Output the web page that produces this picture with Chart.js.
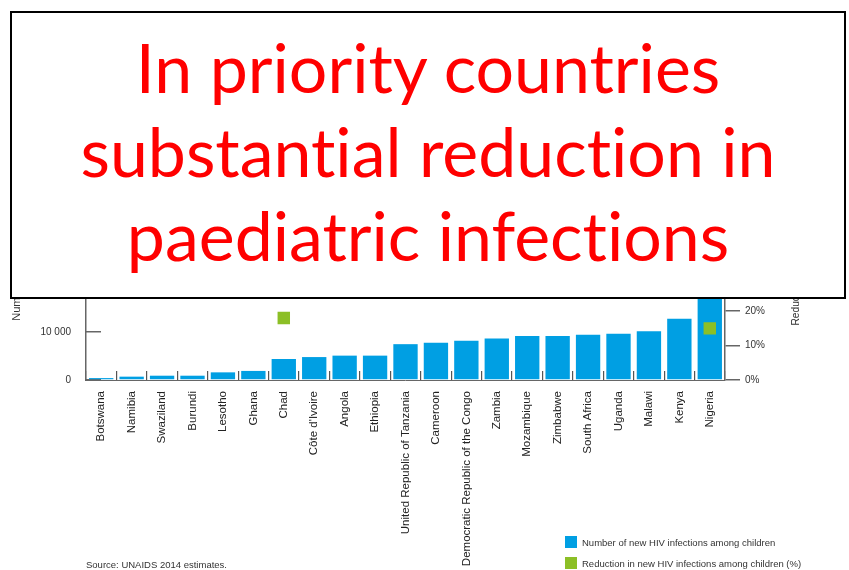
<!DOCTYPE html>
<html lang="en">
<head>
  <meta charset="UTF-8" />
  <title>New HIV infections among children, priority countries</title>
  <script src="https://cdn.jsdelivr.net/npm/chart.js"></script>
  <style>
    html, body {
      margin: 0;
      padding: 0;
      background: #fff;
    }

    .slide {
      position: relative;
      width: 849px;
      height: 570px;
    }

    .slide canvas {
      position: absolute;
      left: 0;
      top: 0;
    }

    .headline {
      position: absolute;
      left: 10px;
      top: 11px;
      width: 836px;
      height: 288px;
      box-sizing: border-box;
      border: 2px solid #000;
      background: #fff;
      color: #ff0000;
      font-family: Lato, "Open Sans", sans-serif;
      font-size: 68px;
      line-height: 84px;
      font-variant-ligatures: none;
      text-align: center;
      padding-top: 12px;
    }
  </style>
</head>
<body>
  <div class="slide">
    <canvas id="hivChart" width="849" height="570"></canvas>
    <div class="headline">
      In priority countries<br>
      substantial reduction in<br>
      paediatric infections
    </div>
  </div>

  <script>
    const countries = [
      'Botswana', 'Namibia', 'Swaziland', 'Burundi', 'Lesotho', 'Ghana', 'Chad',
      "Côte d'Ivoire", 'Angola', 'Ethiopia', 'United Republic of Tanzania', 'Cameroon',
      'Democratic Republic of the Congo', 'Zambia', 'Mozambique', 'Zimbabwe',
      'South Africa', 'Uganda', 'Malawi', 'Kenya', 'Nigeria'
    ];

    // new HIV infections among children, 2013
    const newInfections = [
      400, 700, 900, 900, 1600, 1900, 4400,
      4800, 5100, 5100, 7500, 7800,
      8200, 8700, 9200, 9200,
      9450, 9700, 10200, 12800, 51000
    ];

    // reduction in new infections among children since 2009 (%)
    const reductionPct = [
      57, 58, 61, 36, 47, 76, 18,
      42, 30, 57, 54, 30,
      28, 52, 57, 52,
      76, 52, 67, 44, 15
    ];

    const leftTicks = [0, 10000, 20000, 30000, 40000, 50000, 60000, 70000];

    const seriesLabels = [
      'Number of new HIV infections among children',
      'Reduction in new HIV infections among children (%)'
    ];
    const sourceNote = 'Source: UNAIDS 2014 estimates.';

    const blue = '#009fe3';
    const green = '#8cbf26';
    const axisGrey = '#666';
    const textGrey = '#333';

    Chart.defaults.font.family = '"Liberation Sans", Arial, sans-serif';
    Chart.defaults.color = textGrey;

    // right axis title (reads upwards), legend and source line
    const extras = {
      id: 'extras',
      afterDraw(chart) {
        const ctx = chart.ctx;
        const y1 = chart.scales.y1;
        ctx.save();

        ctx.fillStyle = textGrey;
        ctx.font = '10.2px "Liberation Sans", Arial, sans-serif';
        ctx.textAlign = 'center';
        ctx.textBaseline = 'middle';
        ctx.translate(y1.left + 71, (y1.top + y1.bottom) / 2);
        ctx.rotate(-Math.PI / 2);
        ctx.fillText(seriesLabels[1], 0, 0);
        ctx.setTransform(1, 0, 0, 1, 0, 0);

        // legend: bars first, then the squares
        ctx.font = '9.5px "Liberation Sans", Arial, sans-serif';
        ctx.textAlign = 'left';
        const items = [...chart.data.datasets].sort((a, b) => b.order - a.order);
        items.forEach((ds, i) => {
          const y = 542 + i * 21;
          ctx.fillStyle = ds.type === 'line' ? ds.pointBackgroundColor : ds.backgroundColor;
          ctx.fillRect(565, y - 6, 12, 12);
          ctx.fillStyle = textGrey;
          ctx.fillText(ds.label, 582, y + 1);
        });

        ctx.fillText(sourceNote, 86, 565);
        ctx.restore();
      }
    };

    new Chart(document.getElementById('hivChart'), {
      type: 'bar',
      data: {
        labels: countries,
        datasets: [
          {
            type: 'line',
            label: seriesLabels[1],
            data: reductionPct,
            yAxisID: 'y1',
            showLine: false,
            pointStyle: 'rect',
            pointRadius: 8.8,
            pointBorderWidth: 0,
            pointBackgroundColor: green,
            order: 0
          },
          {
            label: seriesLabels[0],
            data: newInfections,
            yAxisID: 'y',
            backgroundColor: blue,
            barPercentage: 0.8,
            categoryPercentage: 1.0,
            order: 1
          }
        ]
      },
      options: {
        responsive: false,
        animation: false,
        layout: { padding: { top: 10, left: 0, right: 0, bottom: 0 } },
        plugins: {
          legend: { display: false },
          tooltip: { enabled: false }
        },
        scales: {
          x: {
            offset: true,
            afterFit(scale) { scale.height = 190; },
            border: { color: axisGrey, width: 1 },
            grid: {
              offset: true,
              drawOnChartArea: false,
              tickLength: -9,
              color: '#555',
              lineWidth: 1.2
            },
            ticks: {
              autoSkip: false,
              minRotation: 90,
              maxRotation: 90,
              padding: 20,
              color: '#222',
              font: { size: 11.5 }
            }
          },
          y: {
            position: 'left',
            min: 0,
            max: 72000,
            afterFit(scale) { scale.width = 86; },
            afterBuildTicks(scale) {
              scale.ticks = leftTicks.map(v => ({ value: v }));
            },
            border: { color: axisGrey, width: 1.5 },
            grid: {
              drawOnChartArea: false,
              tickLength: -15,
              color: axisGrey,
              lineWidth: 1.5
            },
            ticks: {
              padding: 30,
              font: { size: 10 },
              callback: v => String(v).replace(/\B(?=(\d{3})+(?!\d))/g, ' ')
            },
            title: {
              display: true,
              text: seriesLabels[0],
              font: { size: 11.1 },
              padding: { top: 10, bottom: 0 }
            }
          },
          y1: {
            position: 'right',
            min: 0,
            max: 100,
            afterFit(scale) { scale.width = 124; },
            border: { color: axisGrey, width: 1.5 },
            grid: {
              drawOnChartArea: false,
              tickLength: 15,
              color: axisGrey,
              lineWidth: 1.5
            },
            ticks: {
              stepSize: 10,
              padding: 5,
              font: { size: 10 },
              callback: v => v + '%'
            }
          }
        }
      },
      plugins: [extras]
    });
  </script>
</body>
</html>
